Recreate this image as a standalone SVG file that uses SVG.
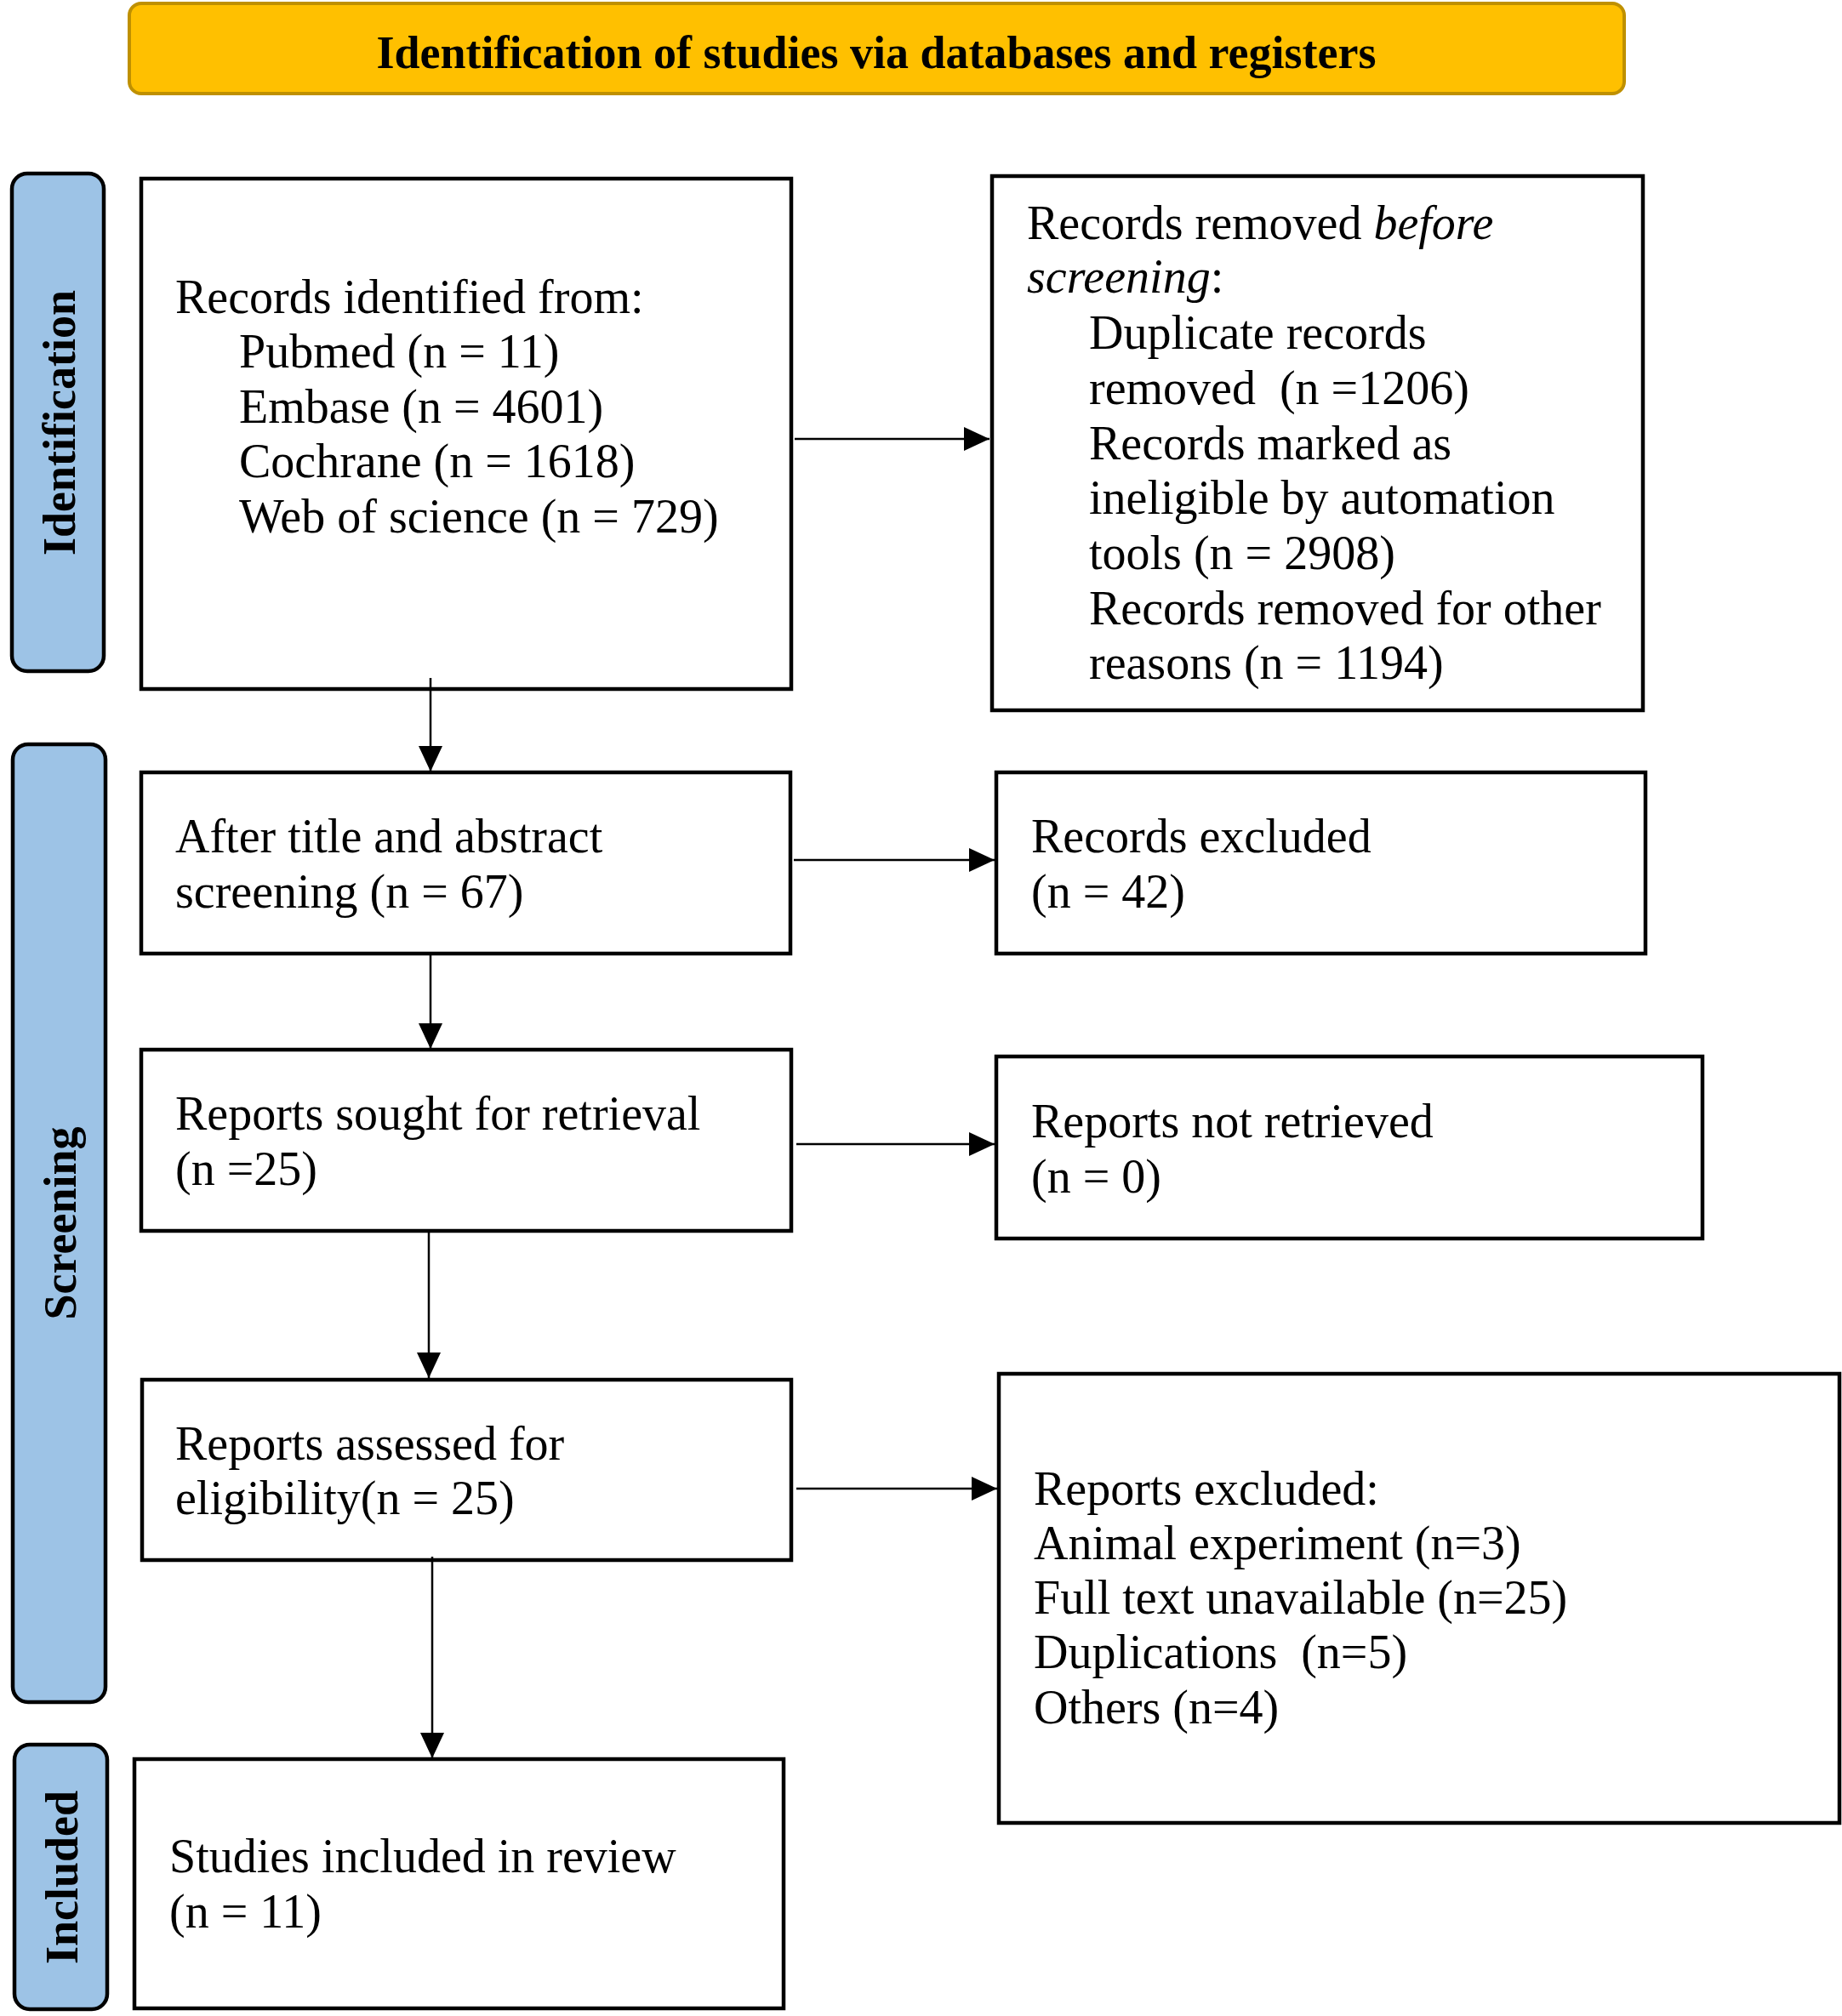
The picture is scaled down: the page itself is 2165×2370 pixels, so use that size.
<svg xmlns="http://www.w3.org/2000/svg" width="2165" height="2370" viewBox="0 0 2165 2370">
<style>
  .box { fill: #ffffff; stroke: #000000; stroke-width: 4.5; }
  .side { fill: #9DC3E6; stroke: #000000; stroke-width: 4.5; }
  .title { fill: #FFC000; stroke: #BF9000; stroke-width: 4; }
  .t { font-family: "Liberation Serif", "Times New Roman", serif; font-size: 56px; fill: #000000; }
  .tb { font-family: "Liberation Serif", "Times New Roman", serif; font-size: 54px; font-weight: bold; fill: #000000; }
  .sl { font-family: "Liberation Serif", "Times New Roman", serif; font-size: 54px; font-weight: bold; fill: #000000; text-anchor: middle; }
  .conn { stroke: #000000; stroke-width: 2.5; fill: none; marker-end: url(#arrow); }
</style>
<defs>
  <marker id="arrow" markerUnits="userSpaceOnUse" markerWidth="30" markerHeight="28" refX="30" refY="14" orient="auto">
    <path d="M0,0 L30,14 L0,28 Z" fill="#000000"/>
  </marker>
</defs>
<rect width="2165" height="2370" fill="#ffffff"/>

<g id="title">
  <rect class="title" x="152" y="4" width="1757" height="106" rx="14"/>
  <text class="tb" x="1030" y="80" text-anchor="middle">Identification of studies via databases and registers</text>
</g>

<g id="label-identification">
  <rect class="side" x="14" y="204" width="108" height="585" rx="18"/>
  <text class="sl" transform="translate(88,497) rotate(-90)">Identification</text>
</g>
<g id="label-screening">
  <rect class="side" x="15" y="875" width="109" height="1126" rx="18"/>
  <text class="sl" transform="translate(89,1438) rotate(-90)">Screening</text>
</g>
<g id="label-included">
  <rect class="side" x="17" y="2051" width="109" height="311" rx="18"/>
  <text class="sl" transform="translate(91,2207) rotate(-90)">Included</text>
</g>

<g id="records-identified">
  <rect class="box" x="166" y="210" width="764" height="600"/>
  <text class="t" x="206" y="368">Records identified from:</text>
  <text class="t" x="281" y="432">Pubmed (n = 11)</text>
  <text class="t" x="281" y="497">Embase (n = 4601)</text>
  <text class="t" x="281" y="561">Cochrane (n = 1618)</text>
  <text class="t" x="281" y="626">Web of science (n = 729)</text>
</g>

<g id="records-removed">
  <rect class="box" x="1166" y="207" width="765" height="628"/>
  <text class="t" x="1207" y="281">Records removed <tspan font-style="italic">before</tspan></text>
  <text class="t" x="1207" y="344"><tspan font-style="italic">screening</tspan>:</text>
  <text class="t" x="1280" y="410">Duplicate records</text>
  <text class="t" x="1280" y="475" xml:space="preserve">removed  (n =1206)</text>
  <text class="t" x="1280" y="540">Records marked as</text>
  <text class="t" x="1280" y="604">ineligible by automation</text>
  <text class="t" x="1280" y="669">tools (n = 2908)</text>
  <text class="t" x="1280" y="734">Records removed for other</text>
  <text class="t" x="1280" y="798">reasons (n = 1194)</text>
</g>

<g id="after-screening">
  <rect class="box" x="166" y="908" width="763" height="213"/>
  <text class="t" x="206" y="1002">After title and abstract</text>
  <text class="t" x="206" y="1067">screening (n = 67)</text>
</g>

<g id="records-excluded">
  <rect class="box" x="1171" y="908" width="763" height="213"/>
  <text class="t" x="1212" y="1002">Records excluded</text>
  <text class="t" x="1212" y="1067">(n = 42)</text>
</g>

<g id="reports-sought">
  <rect class="box" x="166" y="1234" width="764" height="213"/>
  <text class="t" x="206" y="1328">Reports sought for retrieval</text>
  <text class="t" x="206" y="1393">(n =25)</text>
</g>

<g id="reports-not-retrieved">
  <rect class="box" x="1171" y="1242" width="830" height="214"/>
  <text class="t" x="1212" y="1337">Reports not retrieved</text>
  <text class="t" x="1212" y="1402">(n = 0)</text>
</g>

<g id="reports-assessed">
  <rect class="box" x="167" y="1622" width="763" height="212"/>
  <text class="t" x="206" y="1716">Reports assessed for</text>
  <text class="t" x="206" y="1780">eligibility(n = 25)</text>
</g>

<g id="reports-excluded">
  <rect class="box" x="1174" y="1615" width="988" height="528"/>
  <text class="t" x="1215" y="1769">Reports excluded:</text>
  <text class="t" x="1215" y="1833">Animal experiment (n=3)</text>
  <text class="t" x="1215" y="1897">Full text unavailable (n=25)</text>
  <text class="t" x="1215" y="1961" xml:space="preserve">Duplications  (n=5)</text>
  <text class="t" x="1215" y="2026">Others (n=4)</text>
</g>

<g id="studies-included">
  <rect class="box" x="158" y="2068" width="763" height="293"/>
  <text class="t" x="199" y="2201">Studies included in review</text>
  <text class="t" x="199" y="2266">(n = 11)</text>
</g>

<g id="connectors">
  <line class="conn" x1="934" y1="516" x2="1163" y2="516"/>
  <line class="conn" x1="933" y1="1011" x2="1169" y2="1011"/>
  <line class="conn" x1="936" y1="1345" x2="1169" y2="1345"/>
  <line class="conn" x1="936" y1="1750" x2="1172" y2="1750"/>
  <line class="conn" x1="506" y1="797" x2="506" y2="907"/>
  <line class="conn" x1="506" y1="1122" x2="506" y2="1233"/>
  <line class="conn" x1="504" y1="1447" x2="504" y2="1620"/>
  <line class="conn" x1="508" y1="1830" x2="508" y2="2067"/>
</g>
</svg>
